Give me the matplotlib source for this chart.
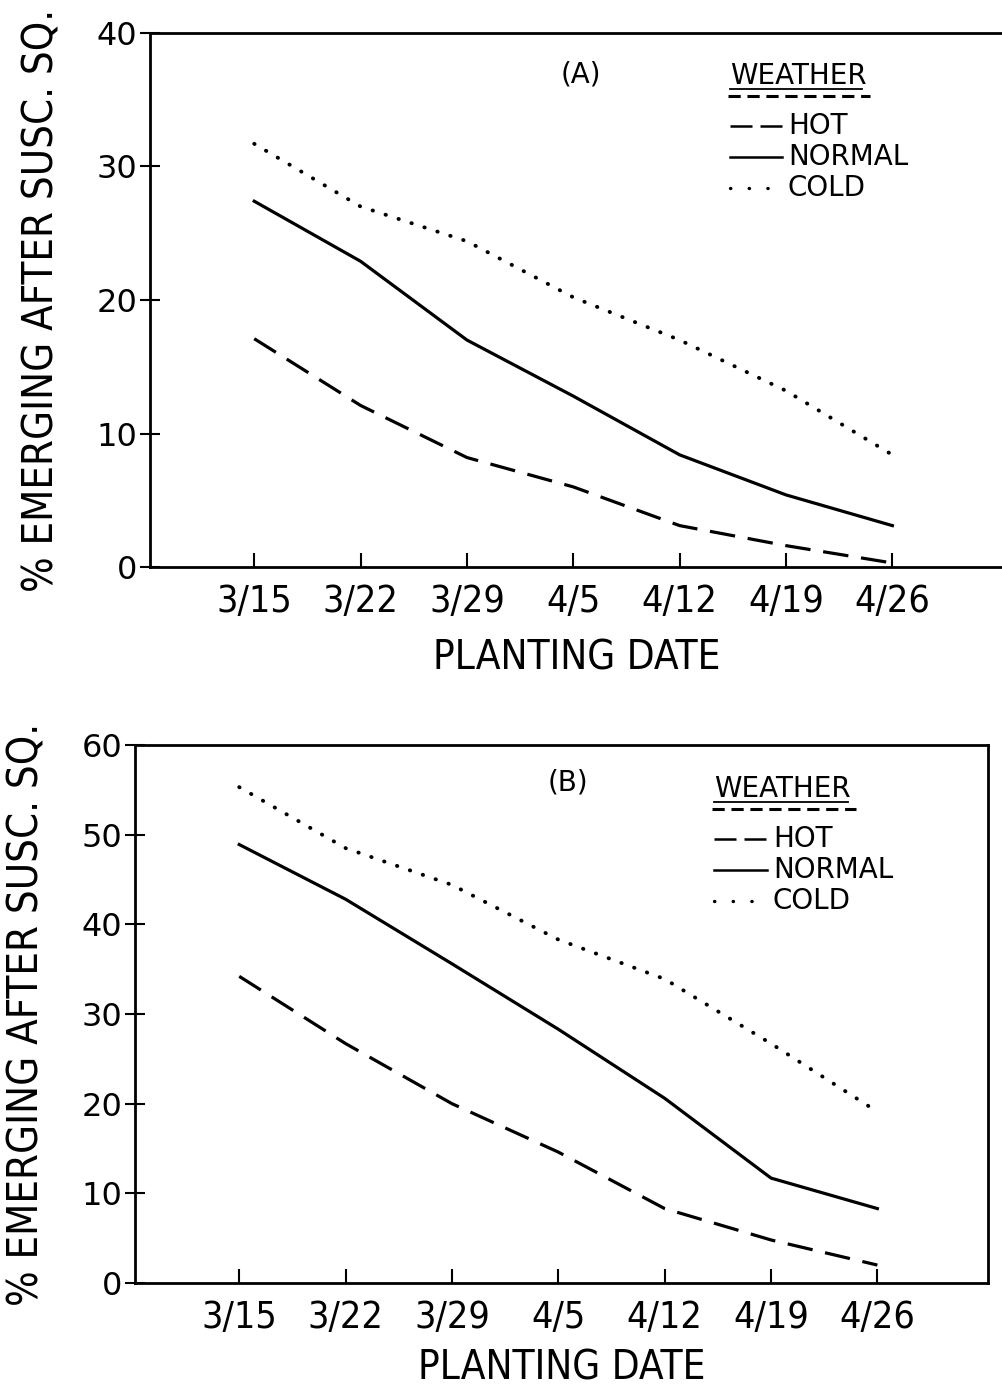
import matplotlib
matplotlib.use("Agg")
import matplotlib.pyplot as plt

W, H = 1003, 1394

dates = ["3/15", "3/22", "3/29", "4/5", "4/12", "4/19", "4/26"]
weeks = [0, 1, 2, 3, 4, 5, 6]

# panel A
hot_a = [17.1, 12.1, 8.2, 6.0, 3.1, 1.6, 0.3]
normal_a = [27.4, 22.9, 17.0, 12.8, 8.4, 5.4, 3.1]
cold_a = [31.7, 27.0, 24.4, 20.2, 17.0, 13.2, 8.4]

# panel B
hot_b = [34.2, 26.7, 20.0, 14.6, 8.3, 4.8, 2.0]
normal_b = [48.9, 42.8, 35.6, 28.3, 20.6, 11.7, 8.3]
cold_b = [55.3, 48.5, 44.4, 38.3, 33.9, 26.7, 19.1]

plt.rcParams["font.family"] = ["DejaVu Sans"]

fig = plt.figure(figsize=(W / 100, H / 100), dpi=100)


def fx(x):
    return x / W


def fy(y):
    return 1 - y / H


def panel(box, hot, normal, cold, ymax, letter, leg, ylab_x, xlab_y, right_spine):
    l, t, r, b = box
    ax = fig.add_axes([fx(l), fy(b), fx(r) - fx(l), fy(t) - fy(b)])
    ln, = ax.plot(weeks, hot, color="black", lw=2.3)
    ln.set_dashes([8, 4])
    ax.plot(weeks, normal, color="black", lw=2.3)
    ax.plot(weeks, cold, color="black", lw=2.8, linestyle=(0, (0.1, 3.4)),
            dash_capstyle="round")

    ax.set_xlim(-0.98, 7.04)
    ax.set_ylim(0, ymax)
    ax.set_xticks(weeks)
    ax.set_xticklabels(dates, fontsize=27, fontstretch="condensed")
    ax.set_yticks(range(0, ymax + 1, 10))
    ax.tick_params(axis="x", direction="in", length=10, width=1.5, pad=12)
    ax.tick_params(axis="y", direction="inout", length=14, width=1.5, pad=2,
                   labelsize=23)
    for s in ax.spines.values():
        s.set_linewidth(2)
    ax.spines["right"].set_visible(right_spine)

    ax.set_xlabel("PLANTING DATE", fontsize=29, fontstretch="condensed")
    ax.xaxis.set_label_coords(0.5, -(xlab_y - b) / (b - t))
    ax.set_ylabel("% EMERGING AFTER SUSC. SQ.", fontsize=30, fontstretch="condensed")
    ax.yaxis.set_label_coords(-(l - ylab_x) / (r - l), 0.5)

    # legend block
    lx, ly, tx_x, lx2 = leg
    fig.text(fx(letter[0]), fy(letter[1]), letter[2], fontsize=20,
             ha="center", va="center")
    fig.text(fx(lx), fy(ly), "WEATHER", fontsize=20, ha="left", va="center")
    fig.add_artist(plt.Line2D([fx(lx), fx(lx2)], [fy(ly + 13), fy(ly + 13)],
                              color="black", lw=1.3))
    ul = plt.Line2D([fx(lx - 2), fx(lx2 + 8)], [fy(ly + 20), fy(ly + 20)],
                    color="black", lw=2.2)
    ul.set_dashes([4, 2.2])
    fig.add_artist(ul)
    rows = [("HOT", "dash"), ("NORMAL", None), ("COLD", "dot")]
    for i, (name, ls) in enumerate(rows):
        yy = ly + 50 + 31 * i
        h = plt.Line2D([fx(lx), fx(tx_x - 6)], [fy(yy), fy(yy)], color="black",
                       lw=1.8)
        if ls == "dot":
            h.set_linestyle((0, (0.1, 5.5)))
            h.set_linewidth(2.4)
            h.set_dash_capstyle("round")
        elif ls == "dash":
            h.set_dashes([8.8, 3.2])
        fig.add_artist(h)
        fig.text(fx(tx_x), fy(yy), name, fontsize=20, ha="left", va="center")
    return ax


panel((150, 33, 1003, 567), hot_a, normal_a, cold_a, 40,
      (581, 75, "(A)"), (730, 76, 788, 862), 63, 638, False)
panel((135, 745, 988, 1283), hot_b, normal_b, cold_b, 60,
      (568, 783, "(B)"), (714, 789, 773, 848), 48, 1348, True)

fig.savefig("out.png", dpi=100)
